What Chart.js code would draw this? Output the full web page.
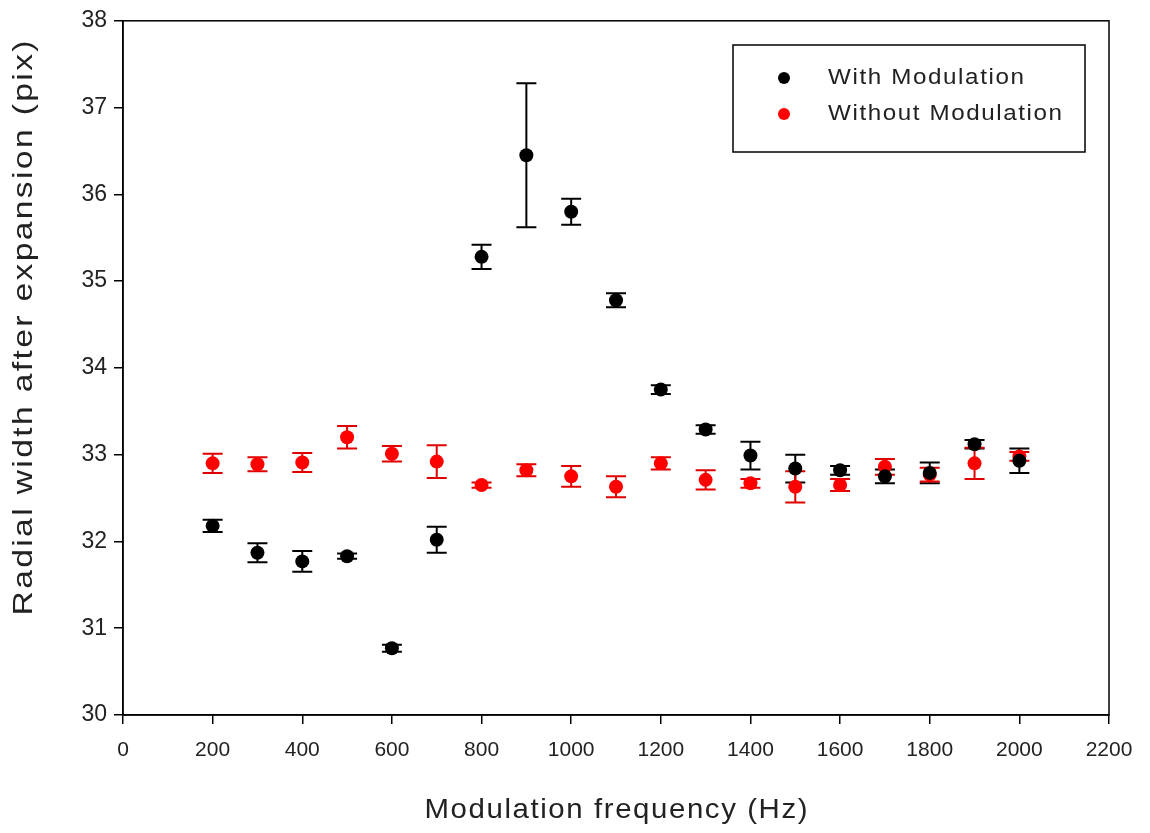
<!DOCTYPE html>
<html>
<head>
<meta charset="utf-8">
<script src="https://cdn.jsdelivr.net/npm/chart.js@4"></script>
<style>
  html, body { margin: 0; padding: 0; background: #fff; }
  #wrap { width: 1150px; height: 833px; }
</style>
</head>
<body>
<div id="wrap"><canvas id="chart" width="1150" height="833"></canvas></div>
<script>
// modulation frequencies (Hz)
const freqs = [200, 300, 400, 500, 600, 700, 800, 900, 1000, 1100, 1200, 1300, 1400, 1500, 1600, 1700, 1800, 1900, 2000];

// radial width after expansion (pix) and its error
const withMod    = [32.18, 31.87, 31.77, 31.83, 30.77, 32.02, 35.28, 36.45, 35.80, 34.78, 33.75, 33.29, 32.99, 32.84, 32.82, 32.75, 32.79, 33.12, 32.93];
const withModErr = [0.07, 0.11, 0.12, 0.03, 0.04, 0.15, 0.14, 0.83, 0.15, 0.08, 0.05, 0.05, 0.16, 0.16, 0.05, 0.08, 0.12, 0.05, 0.14];

const withoutMod    = [32.90, 32.89, 32.91, 33.20, 33.01, 32.92, 32.65, 32.82, 32.75, 32.63, 32.90, 32.71, 32.67, 32.63, 32.65, 32.86, 32.77, 32.90, 32.98];
const withoutModErr = [0.11, 0.08, 0.11, 0.13, 0.09, 0.19, 0.03, 0.07, 0.12, 0.12, 0.07, 0.11, 0.05, 0.18, 0.07, 0.09, 0.08, 0.18, 0.05];

const xTicks = [0, 200, 400, 600, 800, 1000, 1200, 1400, 1600, 1800, 2000, 2200];
const yTicks = [30, 31, 32, 33, 34, 35, 36, 37, 38];

const xTitle = 'Modulation frequency (Hz)';
const yTitle = 'Radial width after expansion (pix)';

const FONT = "'Liberation Sans', Arial, sans-serif";
const TEXT = '#222';

function toPoints(ys, errs) {
  return freqs.map((f, i) => ({ x: f, y: ys[i], err: errs[i] }));
}

// draws text (left-aligned at x,y) widened a little and spaced out to span `span` px
function spreadText(ctx, str, x, y, span, stretch = 1) {
  ctx.save();
  ctx.translate(x, y);
  ctx.scale(stretch, 1);
  ctx.letterSpacing = '0px';
  const w = ctx.measureText(str).width * stretch;
  const gap = Math.max(0, (span - w) / (str.length - 1)) / stretch;
  ctx.letterSpacing = gap + 'px';
  ctx.fillText(str, 0, 0);
  ctx.restore();
}

// vertical error bars with caps, drawn under the markers
const errorBars = {
  id: 'errorBars',
  beforeDatasetsDraw(chart) {
    const { ctx, scales: { x, y } } = chart;
    chart.data.datasets.forEach(ds => {
      ctx.save();
      ctx.strokeStyle = ds.borderColor;
      ctx.lineWidth = 2;
      ds.data.forEach(p => {
        const px = x.getPixelForValue(p.x);
        const top = y.getPixelForValue(p.y + p.err);
        const bot = y.getPixelForValue(p.y - p.err);
        ctx.beginPath();
        ctx.moveTo(px, top); ctx.lineTo(px, bot);
        ctx.moveTo(px - 10, top); ctx.lineTo(px + 10, top);
        ctx.moveTo(px - 10, bot); ctx.lineTo(px + 10, bot);
        ctx.stroke();
      });
      ctx.restore();
    });
  }
};

// plot frame, axis titles and the boxed legend in the upper right
const frameAndLegend = {
  id: 'frameAndLegend',
  afterDraw(chart) {
    const { ctx, chartArea: a } = chart;
    ctx.save();
    ctx.strokeStyle = '#000';
    ctx.lineWidth = 1.5;
    ctx.strokeRect(a.left, a.top, a.right - a.left, a.bottom - a.top);

    // axis titles
    ctx.fillStyle = TEXT;
    ctx.textAlign = 'left';
    ctx.textBaseline = 'middle';

    ctx.font = '28px ' + FONT;
    const xs = 383;
    spreadText(ctx, xTitle, (a.left + a.right) / 2 - xs / 2, 810, xs, 1.05);

    ctx.save();
    ctx.translate(24, 328);
    ctx.rotate(-Math.PI / 2);
    const ys = 575;
    spreadText(ctx, yTitle, -ys / 2, 0, ys, 1.2);
    ctx.restore();

    // legend
    ctx.lineWidth = 1.5;
    ctx.strokeRect(733, 45, 352, 107);
    ctx.font = '22px ' + FONT;
    chart.data.datasets.forEach((ds, i) => {
      const cy = 78 + i * 36;
      ctx.fillStyle = ds.backgroundColor;
      ctx.beginPath();
      ctx.arc(784, cy, 6, 0, Math.PI * 2);
      ctx.fill();
      ctx.fillStyle = TEXT;
      spreadText(ctx, ds.label, 828, cy, i === 0 ? 196 : 234, 1.1);
    });
    ctx.restore();
  }
};

new Chart(document.getElementById('chart'), {
  type: 'scatter',
  data: {
    datasets: [
      {
        label: 'With Modulation',
        data: toPoints(withMod, withModErr),
        backgroundColor: '#000',
        borderColor: '#000',
        pointRadius: 7,
        pointBorderWidth: 0
      },
      {
        label: 'Without Modulation',
        data: toPoints(withoutMod, withoutModErr),
        backgroundColor: '#ff0000',
        borderColor: '#e00000',
        pointRadius: 7,
        pointBorderWidth: 0
      }
    ]
  },
  options: {
    responsive: false,
    animation: false,
    layout: { padding: { top: 20, right: 41, left: 0, bottom: 0 } },
    plugins: {
      legend: { display: false },
      tooltip: { enabled: false }
    },
    scales: {
      x: {
        type: 'linear',
        min: 0,
        max: 2200,
        afterFit: s => { s.height = 118; },
        afterBuildTicks: s => { s.ticks = xTicks.map(v => ({ value: v })); },
        grid: { drawOnChartArea: false, drawTicks: true, tickLength: 9, color: '#000', lineWidth: 1.5 },
        border: { display: true, color: '#000', width: 1.5 },
        ticks: {
          color: TEXT,
          font: { family: FONT, size: 21 },
          padding: 14,
          maxRotation: 0,
          callback: v => String(v)
        }
      },
      y: {
        type: 'linear',
        min: 30,
        max: 38,
        afterFit: s => { s.width = 123; },
        afterBuildTicks: s => { s.ticks = yTicks.map(v => ({ value: v })); },
        grid: { drawOnChartArea: false, drawTicks: true, tickLength: 9, color: '#000', lineWidth: 1.5 },
        border: { display: true, color: '#000', width: 1.5 },
        ticks: { color: TEXT, font: { family: FONT, size: 23 }, padding: 7, callback: v => String(v) }
      }
    }
  },
  plugins: [errorBars, frameAndLegend]
});
</script>
</body>
</html>
